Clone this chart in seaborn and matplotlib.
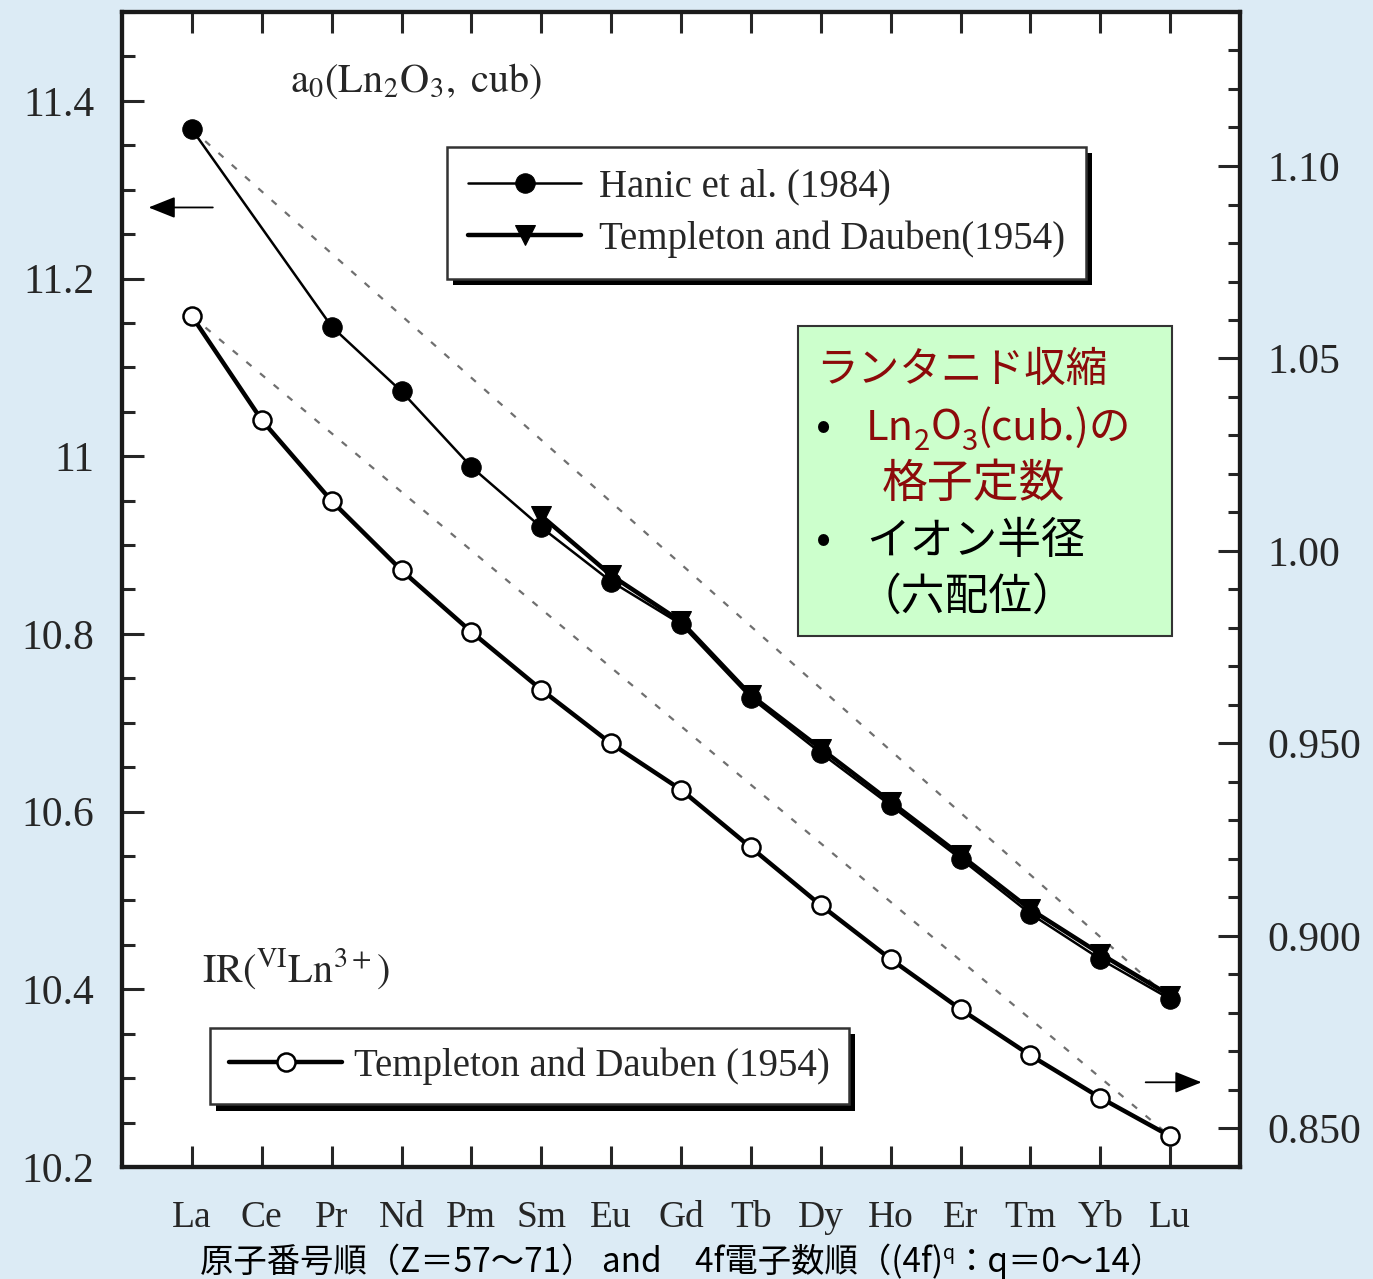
import matplotlib
matplotlib.use("Agg")
import matplotlib.pyplot as plt
import matplotlib.patheffects as pe
from matplotlib.transforms import IdentityTransform
from matplotlib.patches import Rectangle
from matplotlib.ticker import FixedLocator, FixedFormatter, MultipleLocator
import pandas as pd
import seaborn as sns

# ---- data -------------------------------------------------------------
elements = ["La", "Ce", "Pr", "Nd", "Pm", "Sm", "Eu", "Gd",
            "Tb", "Dy", "Ho", "Er", "Tm", "Yb", "Lu"]

# lattice constant a0 of cubic Ln2O3 (Angstrom), left axis
hanic_elements = ["La", "Pr", "Nd", "Pm", "Sm", "Eu", "Gd",
                  "Tb", "Dy", "Ho", "Er", "Tm", "Yb", "Lu"]
hanic_a0 = [11.368, 11.146, 11.073, 10.988, 10.920, 10.859, 10.811,
            10.728, 10.666, 10.607, 10.547, 10.485, 10.434, 10.389]

td_elements = ["Sm", "Eu", "Gd", "Tb", "Dy", "Ho", "Er", "Tm", "Yb", "Lu"]
td_a0 = [10.933, 10.866, 10.814, 10.731, 10.671, 10.611, 10.551,
         10.490, 10.440, 10.393]

# six-coordinate ionic radius of Ln3+ (Angstrom), right axis
ionic_radius = [1.061, 1.034, 1.013, 0.995, 0.979, 0.964, 0.950, 0.938,
                0.923, 0.908, 0.894, 0.881, 0.869, 0.858, 0.848]

left_ticks = [10.2, 10.4, 10.6, 10.8, 11.0, 11.2, 11.4]
left_labels = ["10.2", "10.4", "10.6", "10.8", "11", "11.2", "11.4"]
right_ticks = [0.85, 0.90, 0.95, 1.00, 1.05, 1.10]
right_labels = ["0.850", "0.900", "0.950", "1.00", "1.05", "1.10"]

label_hanic = "Hanic et al. (1984)"
label_td = "Templeton and Dauben(1954)"
label_ir = "Templeton and Dauben (1954)"

pos = {e: i for i, e in enumerate(elements)}
df_hanic = pd.DataFrame({"x": [pos[e] for e in hanic_elements], "a0": hanic_a0})
df_td = pd.DataFrame({"x": [pos[e] for e in td_elements], "a0": td_a0})
df_ir = pd.DataFrame({"x": list(range(len(elements))), "r": ionic_radius})

# ---- style ------------------------------------------------------------
sns.set_style("ticks")
plt.rcParams["font.family"] = ["Liberation Serif", "DejaVu Serif"]
plt.rcParams["mathtext.fontset"] = "stix"

BG = "#dcebf5"
INK = "#262626"
W, H = 1373, 1279
fig = plt.figure(figsize=(W / 100, H / 100), dpi=100, facecolor=BG)
ax = fig.add_axes([122 / W, 1 - 1167 / H, (1240 - 122) / W, (1167 - 12) / H])
ax.set_facecolor("white")
ax2 = ax.twinx()

# straight reference lines joining the La and Lu values
ax.plot([df_hanic.x.iloc[0], df_hanic.x.iloc[-1]],
        [df_hanic.a0.iloc[0], df_hanic.a0.iloc[-1]],
        color="#6f6f6f", lw=1.6, ls=(0, (3, 5)), zorder=1)
ax2.plot([df_ir.x.iloc[0], df_ir.x.iloc[-1]],
         [df_ir.r.iloc[0], df_ir.r.iloc[-1]],
         color="#6f6f6f", lw=1.6, ls=(0, (3, 5)), zorder=1)

sns.lineplot(data=df_td, x="x", y="a0", ax=ax, color="black", lw=3.2,
             marker="v", ms=14, mfc="black", mec="black",
             estimator=None, sort=False, legend=False, zorder=3)
h_td = ax.lines[-1]
sns.lineplot(data=df_hanic, x="x", y="a0", ax=ax, color="black", lw=1.8,
             marker="o", ms=14, mfc="black", mec="black",
             estimator=None, sort=False, legend=False, zorder=4)
h_hanic = ax.lines[-1]
sns.lineplot(data=df_ir, x="x", y="r", ax=ax2, color="black", lw=3.2,
             marker="o", ms=13, mfc="white", mec="black", mew=1.8,
             estimator=None, sort=False, legend=False, zorder=3)
h_ir = ax2.lines[-1]

# ---- axes -------------------------------------------------------------
ax.set_xlim(-1, 15)
ax.set_ylim(10.2, 11.5)
ax2.set_ylim(0.84, 1.14)
ax.set_xlabel("")
ax.set_ylabel("")
ax2.set_ylabel("")

ax.xaxis.set_major_locator(FixedLocator(list(range(len(elements)))))
ax.xaxis.set_major_formatter(FixedFormatter(elements))
ax.yaxis.set_major_locator(FixedLocator(left_ticks))
ax.yaxis.set_major_formatter(FixedFormatter(left_labels))
ax.yaxis.set_minor_locator(MultipleLocator(0.05))
ax2.yaxis.set_major_locator(FixedLocator(right_ticks))
ax2.yaxis.set_major_formatter(FixedFormatter(right_labels))
ax2.yaxis.set_minor_locator(MultipleLocator(0.01))

for a in (ax, ax2):
    for s in a.spines.values():
        s.set_linewidth(3.0)
        s.set_color("#1a1a1a")
        s.set_visible(True)

ax.tick_params(axis="x", which="major", direction="in", top=True, bottom=True,
               length=15, width=2.2, pad=24, labelsize=27, labelcolor=INK)
ax.tick_params(axis="y", which="major", direction="in", left=True, right=False,
               length=16, width=2.2, pad=20, labelsize=30, labelcolor=INK)
ax.tick_params(axis="y", which="minor", direction="in", left=True, right=False,
               length=9, width=2.2)
ax2.tick_params(axis="y", which="major", direction="in", right=True,
                length=16, width=2.2, pad=20, labelsize=30, labelcolor=INK)
ax2.tick_params(axis="y", which="minor", direction="in", right=True,
                length=9, width=2.2)

# ---- annotations ------------------------------------------------------
ax.text(1.4, 11.41, r"$\mathrm{a_{0}(Ln_{2}O_{3},\ cub)}$", fontsize=29,
        color=INK, ha="left", va="baseline")
ax2.text(0.15, 0.888, r"$\mathrm{IR(^{VI}Ln^{3+})}$", fontsize=29,
         color=INK, ha="left", va="baseline")

arrow_props = dict(arrowstyle="-|>,head_length=0.75,head_width=0.3",
                   color="black", lw=1.3, mutation_scale=22,
                   shrinkA=0, shrinkB=0)
ax.annotate("", xy=(-0.62, 11.28), xytext=(0.3, 11.28), arrowprops=arrow_props)
ax2.annotate("", xy=(14.45, 0.862), xytext=(13.65, 0.862), arrowprops=arrow_props)

shadow = [pe.SimplePatchShadow(offset=(4.5, -4.5), shadow_rgbFace="black", alpha=1.0),
          pe.Normal()]
leg1 = ax2.legend(handles=[h_hanic, h_td], labels=[label_hanic, label_td],
                  loc="upper left", bbox_to_anchor=(447 / W, 1 - 147 / H),
                  bbox_transform=fig.transFigure, borderaxespad=0,
                  fontsize=28, frameon=True, fancybox=False, framealpha=1,
                  edgecolor="#333333", handlelength=2.9, handletextpad=0.45,
                  labelspacing=0.38, borderpad=0.55)
leg1.get_frame().set_linewidth(1.8)
leg1.get_frame().set_path_effects(shadow)
for t in leg1.get_texts():
    t.set_color(INK)
ax2.add_artist(leg1)

leg2 = ax2.legend(handles=[h_ir], labels=[label_ir],
                  loc="upper left", bbox_to_anchor=(210 / W, 1 - 1028 / H),
                  bbox_transform=fig.transFigure, borderaxespad=0,
                  fontsize=28, frameon=True, fancybox=False, framealpha=1,
                  edgecolor="#333333", handlelength=2.9, handletextpad=0.3,
                  borderpad=0.5)
leg2.get_frame().set_linewidth(1.8)
leg2.get_frame().set_path_effects(shadow)
for t in leg2.get_texts():
    t.set_color(INK)

# ---- note box and bottom caption (pixel coordinates) ------------------
JP = ["Noto Sans CJK JP", "DejaVu Sans"]
RED = "#8c0a0a"

fig.patches.append(Rectangle((798, H - 636), 1172 - 798, 636 - 326,
                             transform=IdentityTransform(), facecolor="#ccffcc",
                             edgecolor="#333333", lw=1.5, zorder=10))

fig.canvas.draw()
renderer = fig.canvas.get_renderer()


def draw_runs(x, y_top, runs):
    """Write consecutive text pieces on one baseline, y given from the top."""
    y = H - y_top
    for s, size, color, dy in runs:
        t = fig.text(x, y - dy, s, transform=IdentityTransform(), fontsize=size,
                     color=color, family=JP, ha="left", va="baseline", zorder=11)
        x += t.get_window_extent(renderer).width


draw_runs(816, 382, [("ランタニド収縮", 30, RED, 0)])
draw_runs(816, 440, [("•", 32, "black", 0)])
draw_runs(866, 440, [("Ln", 30, RED, 0), ("2", 21, RED, 10), ("O", 30, RED, 0),
                     ("3", 21, RED, 10), ("(cub.)の", 30, RED, 0)])
draw_runs(882, 497, [("格子定数", 33, RED, 0)])
draw_runs(816, 553, [("•", 32, "black", 0)])
draw_runs(866, 554, [("イオン半径", 31.5, "black", 0)])
draw_runs(858, 610, [("（六配位）", 31.5, "black", 0)])

draw_runs(200, 1272, [("原子番号順（Z＝57～71） and　4f電子数順（(4f)", 24, "black", 0),
                      ("q", 14, "black", -13),
                      ("：q＝0～14）", 24, "black", 0)])

fig.savefig("out.png", dpi=100, facecolor=BG)
